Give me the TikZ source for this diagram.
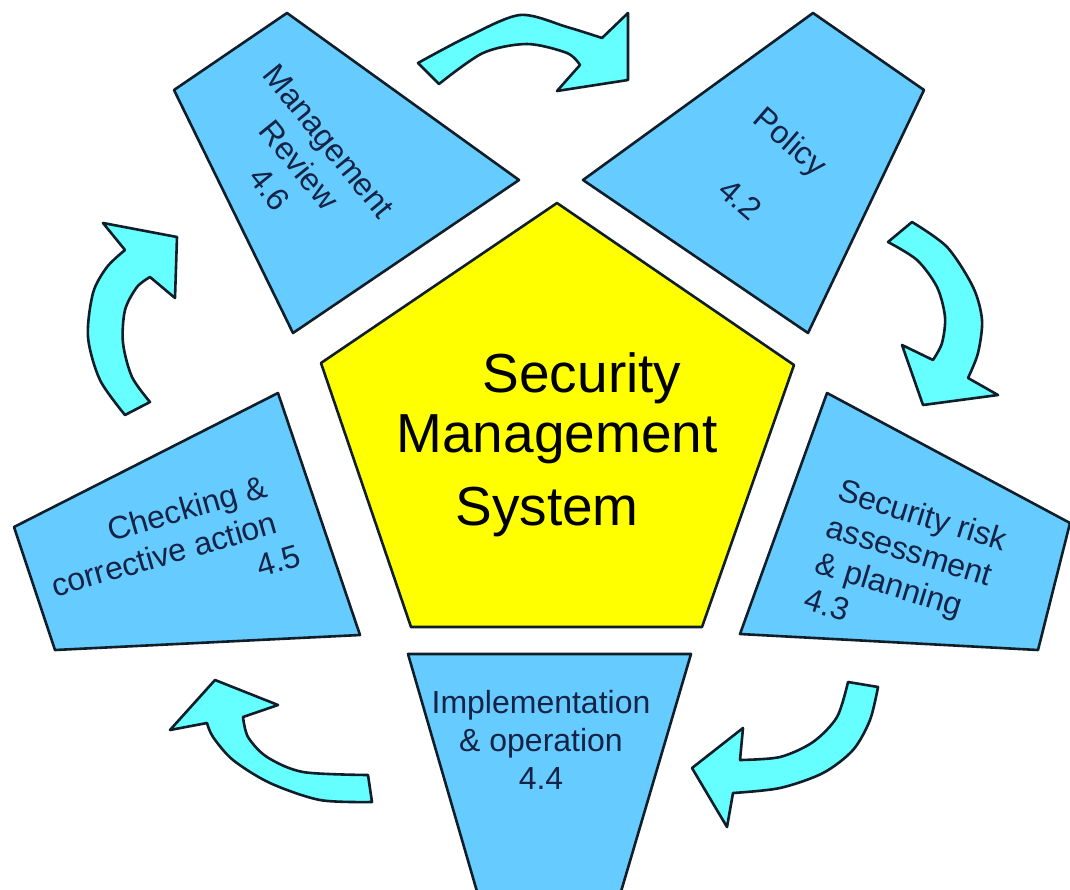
\documentclass[tikz,border=0pt]{standalone}
\usepackage{fontspec}
\setmainfont{Liberation Sans}
\definecolor{quadblue}{RGB}{102,204,255}
\definecolor{arrowcyan}{RGB}{102,255,255}
\definecolor{pentyellow}{RGB}{255,255,0}
\definecolor{edgecol}{RGB}{15,30,40}
\definecolor{qtext}{RGB}{20,35,70}
\begin{document}
\begin{tikzpicture}[x=1pt,y=-1pt,
  quad/.style={fill=quadblue,draw=edgecol,line width=2.6pt,line join=round},
  penta/.style={fill=pentyellow,draw=edgecol,line width=2.6pt,line join=round},
  curvedarrow/.style={fill=arrowcyan,draw=edgecol,line width=2.6pt,line join=round},
  qlabel/.style={text=qtext,font=\fontsize{32}{38}\selectfont,inner sep=0pt},
  plabel/.style={text=black,font=\fontsize{55}{66}\selectfont,inner sep=0pt,anchor=base}]
\useasboundingbox[fill=white] (0,0) rectangle (1070,889);

% central pentagon
\path[penta] (557,203) -- (794,365) -- (702,627) -- (411,627) -- (321,363) -- cycle;

% surrounding quadrilaterals
\path[quad] (287,13) -- (519,180) -- (293,333) -- (174,90) -- cycle;   % Management Review
\path[quad] (813,13) -- (924,90) -- (808,333) -- (583,180) -- cycle;   % Policy
\path[quad] (278,393) -- (360,635) -- (55,650) -- (14,527) -- cycle;   % Checking
\path[quad] (827,393) -- (1070,523) -- (1038,650) -- (740,634) -- cycle; % Security risk
\path[quad] (408,654) -- (691,654) -- (620,895) -- (478,895) -- cycle; % Implementation

% curved arrows
\path[curvedarrow] plot[smooth] coordinates {(418,63) (467,37) (520,15) (567,27) (602,38)}
  -- (628,13) -- (628,80) -- (557,91)
  -- plot[smooth] coordinates {(580,65) (567,53) (527,44) (483,53) (439,84)} -- cycle;
\path[curvedarrow] plot[smooth] coordinates {(912,222) (947,247) (973,287) (982,320) (978,353) (968,378)}
  -- (998,395) -- (923,405) -- (902,345)
  -- plot[smooth] coordinates {(933,360) (942,343) (945,317) (937,287) (917,260) (888,242)} -- cycle;
\path[curvedarrow] plot[smooth] coordinates {(878,687) (870,720) (853,750) (823,773) (780,788) (733,793)}
  -- (727,827) -- (692,768) -- (743,728)
  -- plot[smooth] coordinates {(740,760) (780,757) (813,742) (837,717) (848,682)} -- cycle;
\path[curvedarrow] plot[smooth] coordinates {(372,802) (320,800) (270,783) (233,760) (213,737) (207,723)}
  -- (170,730) -- (215,680) -- (278,705)
  -- plot[smooth] coordinates {(243,717) (248,737) (267,757) (303,772) (368,775)} -- cycle;
\path[curvedarrow] plot[smooth] coordinates {(125,415) (100,380) (88,337) (93,293) (107,267) (125,250)}
  -- (103,223) -- (177,237) -- (175,298)
  -- plot[smooth] coordinates {(150,277) (137,287) (125,310) (123,343) (132,377) (150,402)} -- cycle;

% labels
\node[qlabel,align=center,rotate=-51] (mrtext) at (299,165) {Management\\Review\\4.6};
\node[qlabel,align=center,rotate=-41] (poltext) at (766,170) {Policy\\[39pt]4.2};
\node[qlabel,align=right,rotate=16] (chktext) at (164,554) {Checking \&\\corrective action\\4.5\kern-14pt};
\node[qlabel,align=left,rotate=-17] (srtext) at (906,569) {Security risk\\assessment\\\& planning\\4.3};
\node[qlabel,align=center] (imptext) at (541,740) {Implementation\\\& operation\\4.4};

\node[plabel] (smsa) at (582,392) {Security};
\node[plabel] (smsb) at (557,452) {Management};
\node[plabel] (smsc) at (547,525) {System};
\end{tikzpicture}
\end{document}
